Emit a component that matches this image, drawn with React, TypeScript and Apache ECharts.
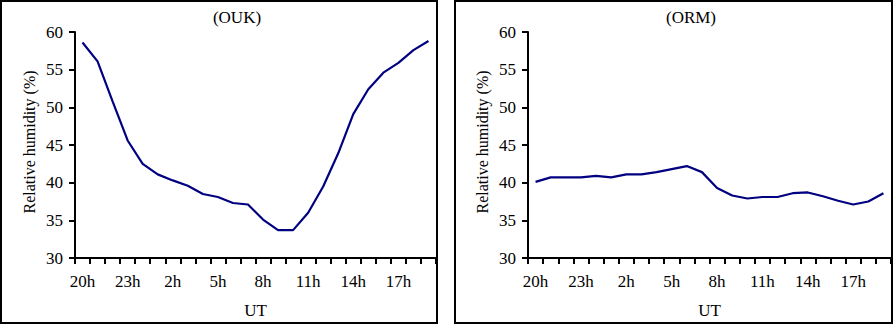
import React, { useEffect, useRef } from "react";
import * as echarts from "echarts";

const hours: string[] = [
  "20h", "21h", "22h", "23h", "0h", "1h", "2h", "3h", "4h", "5h", "6h", "7h",
  "8h", "9h", "10h", "11h", "12h", "13h", "14h", "15h", "16h", "17h", "18h", "19h",
];

const oukHumidity: number[] = [
  58.6, 56.1, 50.8, 45.6, 42.5, 41.1, 40.3, 39.6, 38.5, 38.1, 37.3, 37.1,
  35.1, 33.7, 33.7, 36.0, 39.5, 43.9, 49.1, 52.4, 54.6, 55.9, 57.6, 58.8,
];

const ormHumidity: number[] = [
  40.1, 40.7, 40.7, 40.7, 40.9, 40.7, 41.1, 41.1, 41.4, 41.8, 42.2, 41.4,
  39.3, 38.3, 37.9, 38.1, 38.1, 38.6, 38.7, 38.2, 37.6, 37.1, 37.5, 38.6,
];

const panelTitles: string[] = ["(OUK)", "(ORM)"];
const yAxisName = "Relative humidity (%)";
const xAxisName = "UT";

const FONT = "'Liberation Serif', 'Times New Roman', serif";

export default function App() {
  const ref = useRef<HTMLDivElement>(null);

  useEffect(() => {
    document.body.style.margin = "0";
    if (!ref.current) return;
    const chart = echarts.init(ref.current, undefined, { renderer: "svg" });

    const grids = [
      { left: 75, top: 32, width: 361, height: 226 },
      { left: 528, top: 32, width: 363, height: 226 },
    ];

    const xAxes = grids.map((_, i) => ({
      type: "category" as const,
      gridIndex: i,
      data: hours,
      boundaryGap: true,
      name: xAxisName,
      nameLocation: "middle" as const,
      nameGap: 44,
      nameTextStyle: { fontFamily: FONT, fontSize: 17, color: "#000" },
      axisLine: { lineStyle: { color: "#000", width: 2 } },
      axisTick: { show: true, interval: 0, length: 6, inside: false, lineStyle: { color: "#000", width: 2 } },
      axisLabel: { interval: 2, margin: 15, fontFamily: FONT, fontSize: 17, color: "#000" },
      splitLine: { show: false },
    }));

    const yAxes = grids.map((_, i) => ({
      type: "value" as const,
      gridIndex: i,
      min: 30,
      max: 60,
      interval: 5,
      name: yAxisName,
      nameLocation: "middle" as const,
      nameGap: 38,
      nameRotate: 90,
      nameTextStyle: { fontFamily: FONT, fontSize: 16, color: "#000", padding: [0, 0, 0, 6] },
      axisLine: { show: true, lineStyle: { color: "#000", width: 2 } },
      axisTick: { show: true, length: 6, inside: false, lineStyle: { color: "#000", width: 2 } },
      axisLabel: { margin: 12, fontFamily: FONT, fontSize: 17, color: "#000" },
      splitLine: { show: false },
    }));

    const seriesData = [oukHumidity, ormHumidity];

    chart.setOption({
      animation: false,
      backgroundColor: "#fff",
      grid: grids,
      xAxis: xAxes,
      yAxis: yAxes,
      series: seriesData.map((d, i) => ({
        type: "line",
        xAxisIndex: i,
        yAxisIndex: i,
        data: d,
        showSymbol: false,
        symbol: "none",
        lineStyle: { color: "#000080", width: 2.2 },
      })),
      graphic: [
        {
          type: "rect",
          shape: { x: 1, y: 1, width: 436, height: 322 },
          style: { fill: "none", stroke: "#000", lineWidth: 2 },
          z: 10,
        },
        {
          type: "rect",
          shape: { x: 455, y: 1, width: 437, height: 322 },
          style: { fill: "none", stroke: "#000", lineWidth: 2 },
          z: 10,
        },
        {
          type: "text",
          x: 237,
          y: 17,
          style: { text: panelTitles[0], align: "center", verticalAlign: "middle", font: `17px ${FONT}`, fill: "#000" },
        },
        {
          type: "text",
          x: 691,
          y: 17,
          style: { text: panelTitles[1], align: "center", verticalAlign: "middle", font: `17px ${FONT}`, fill: "#000" },
        },
      ],
    });

    return () => chart.dispose();
  }, []);

  return <div ref={ref} style={{ width: 894, height: 326 }} />;
}
